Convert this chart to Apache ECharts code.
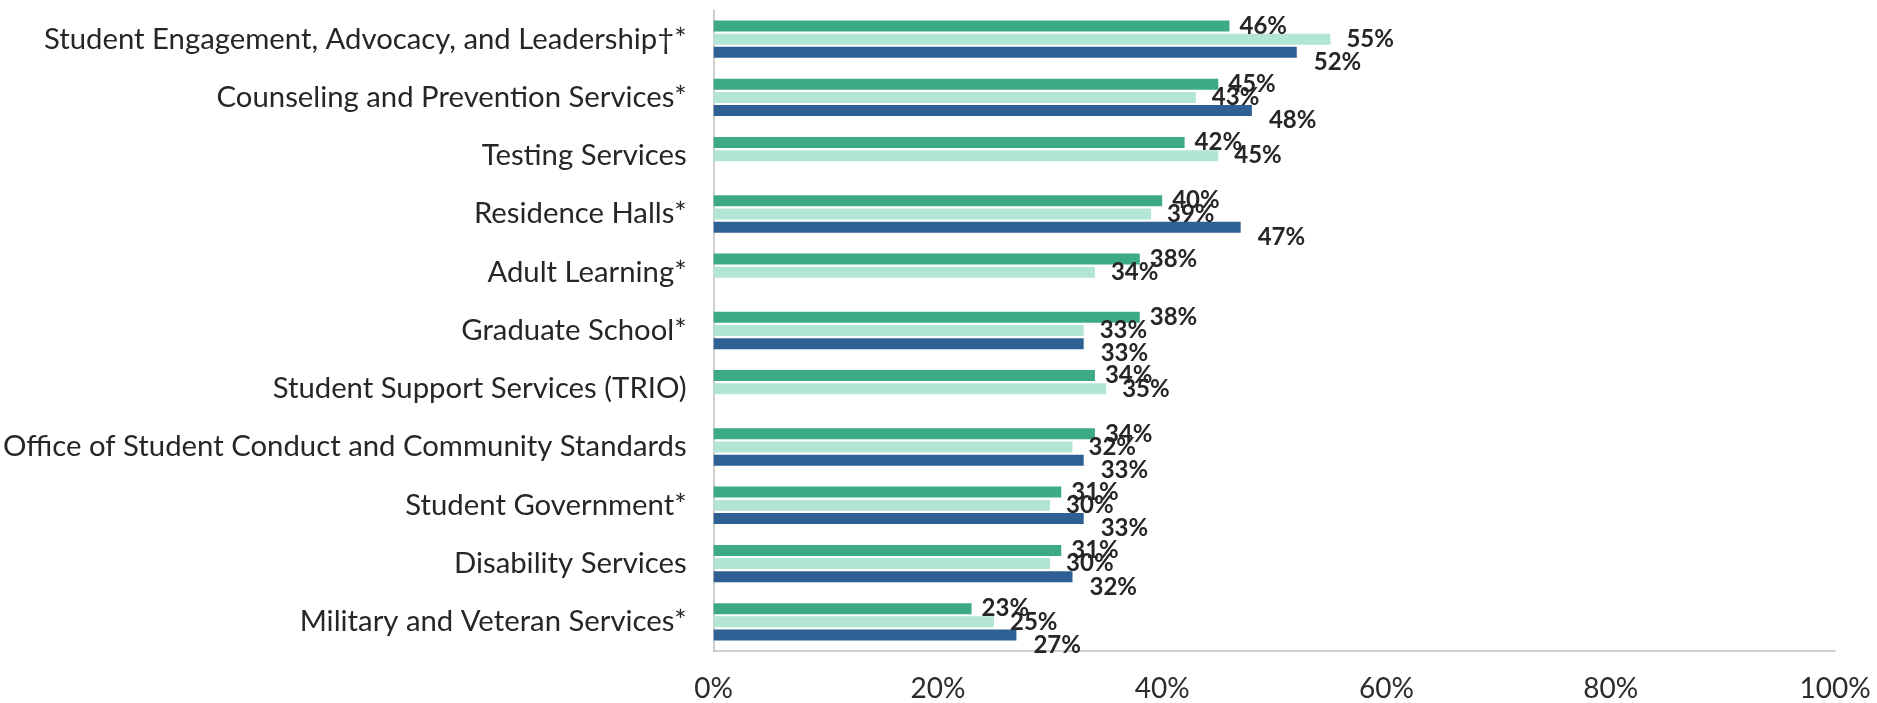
<!DOCTYPE html>
<html>
<head>
<meta charset="utf-8">
<script src="https://cdn.jsdelivr.net/npm/echarts@6/dist/echarts.min.js"></script>
<style>
  html, body { margin: 0; padding: 0; background: #ffffff; }
  #chart { width: 1877px; height: 703px; }
</style>
</head>
<body>
<div id="chart"></div>
<script>
// Service categories, listed top to bottom
const categories = [
  'Student Engagement, Advocacy, and Leadership\u2020*',
  'Counseling and Prevention Services*',
  'Testing Services',
  'Residence Halls*',
  'Adult Learning*',
  'Graduate School*',
  'Student Support Services (TRIO)',
  'Office of Student Conduct and Community Standards',
  'Student Government*',
  'Disability Services',
  'Military and Veteran Services*'
];

// Percentages for the three groups (null = no bar)
const seriesGreen = [46, 45, 42, 40, 38, 38, 34, 34, 31, 31, 23];
const seriesMint  = [55, 43, 45, 39, 34, 33, 35, 32, 30, 30, 25];
const seriesBlue  = [52, 48, null, 47, null, 33, null, 33, 33, 32, 27];

// Value axis ticks
const tickValues = [0, 20, 40, 60, 80, 100];

const FONT = 'Lato, "Noto Sans", sans-serif';

function labelStyle(distance, dy) {
  return {
    show: true,
    position: 'right',
    distance: distance,
    offset: [0, dy],
    formatter: p => p.value + '%',
    fontFamily: FONT,
    fontWeight: 'bold',
    fontSize: 24,
    color: '#262626'
  };
}

const chart = echarts.init(document.getElementById('chart'), null, { renderer: 'canvas' });

chart.setOption({
  animation: false,
  backgroundColor: '#ffffff',
  grid: { left: 712, right: 42, top: 10, bottom: 51, containLabel: false },
  xAxis: {
    type: 'value',
    min: tickValues[0],
    max: tickValues[tickValues.length - 1],
    interval: tickValues[1] - tickValues[0],
    axisLine: { show: true, lineStyle: { color: '#bfbfbf', width: 1.5 } },
    axisTick: { show: false },
    splitLine: { show: false },
    axisLabel: {
      formatter: '{value}%',
      fontFamily: FONT,
      fontSize: 28,
      color: '#2b2b2b',
      margin: 24
    }
  },
  yAxis: {
    type: 'category',
    data: categories,
    inverse: true,
    axisLine: { show: true, lineStyle: { color: '#bfbfbf', width: 1.5 } },
    axisTick: { show: false },
    axisLabel: {
      fontFamily: FONT,
      fontSize: 29.3,
      color: '#262626',
      margin: 27
    }
  },
  series: [
    {
      name: 'Green',
      type: 'bar',
      data: seriesGreen,
      barWidth: 11,
      barGap: '20%',
      itemStyle: { color: '#3ca987' },
      label: labelStyle(10, 0)
    },
    {
      name: 'Mint',
      type: 'bar',
      data: seriesMint,
      barWidth: 11,
      barGap: '20%',
      itemStyle: { color: '#b2e5d4' },
      label: labelStyle(16, 0)
    },
    {
      name: 'Blue',
      type: 'bar',
      data: seriesBlue,
      barWidth: 11,
      barGap: '20%',
      itemStyle: { color: '#2f6093' },
      label: labelStyle(17, 10)
    }
  ]
});
</script>
</body>
</html>
